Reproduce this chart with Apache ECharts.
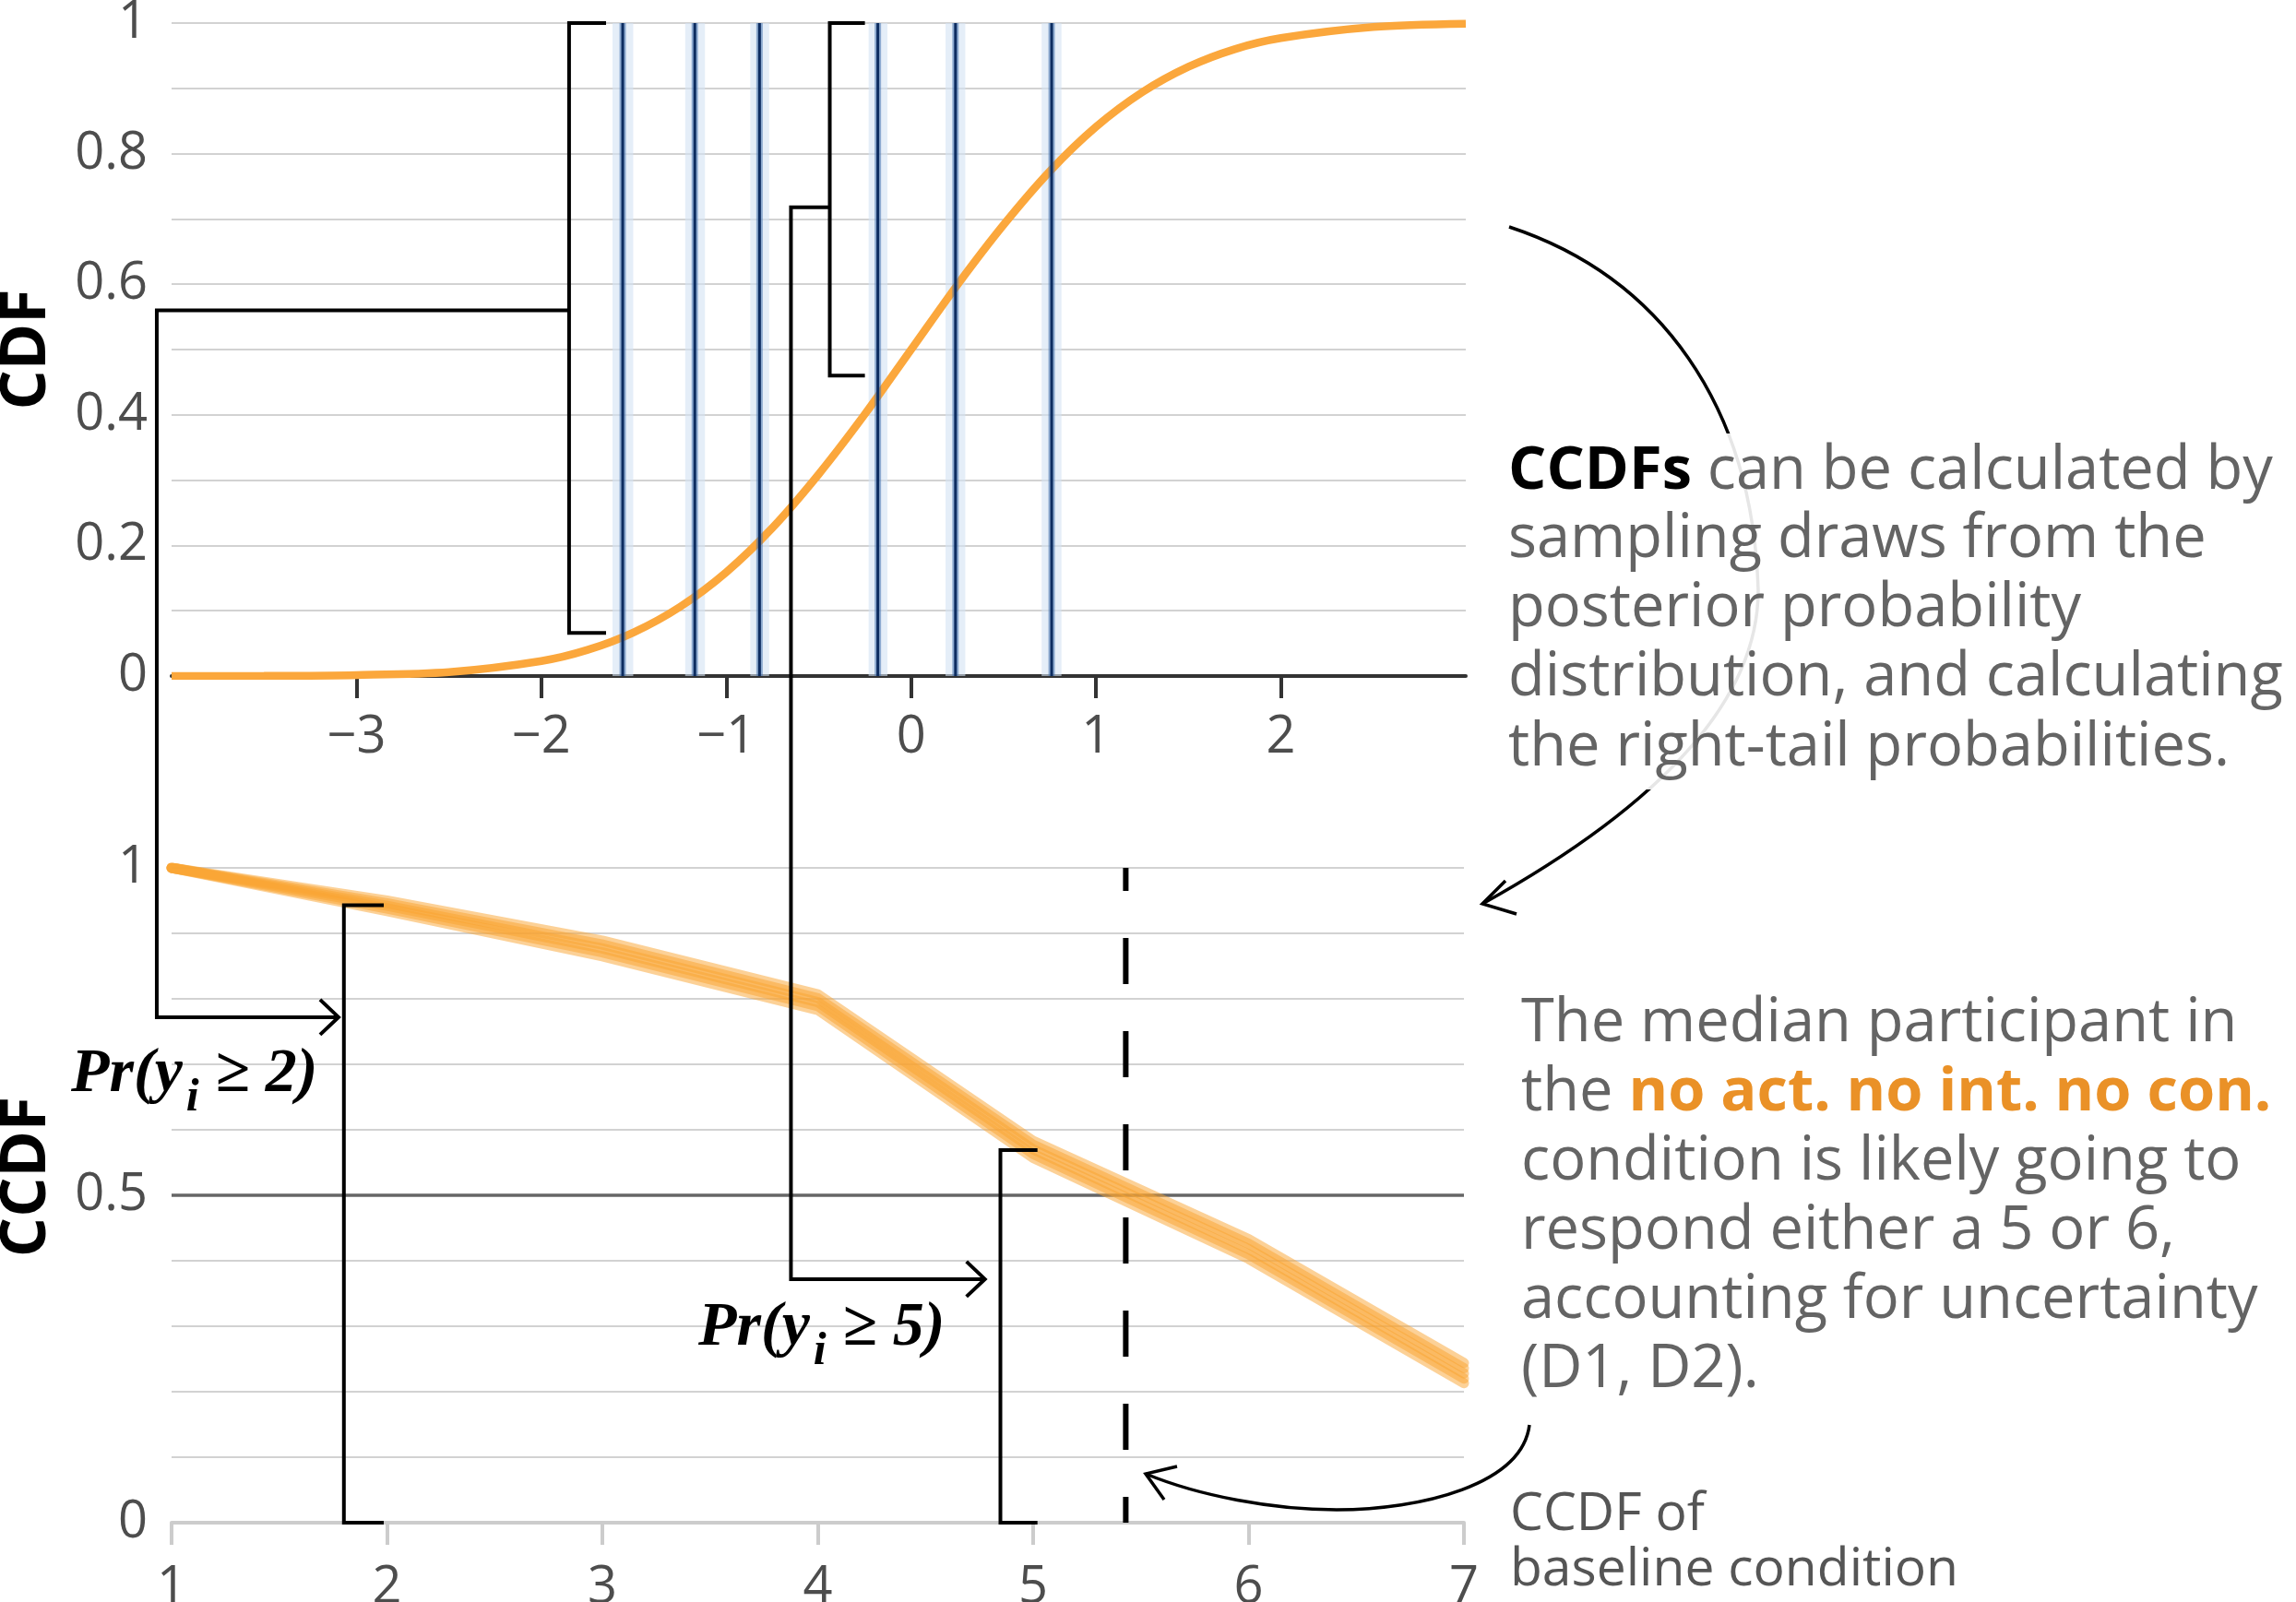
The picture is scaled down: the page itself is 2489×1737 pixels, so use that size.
<!DOCTYPE html>
<html><head><meta charset="utf-8">
<script src="https://cdn.jsdelivr.net/npm/echarts@6/dist/echarts.min.js"></script>
<style>html,body{margin:0;padding:0;background:#fff}#c{width:2489px;height:1737px}</style>
</head><body><div id="c"></div>
<script>
// ---------- data ----------
// latent-scale CDF curve (top panel)
const cdfX = [-4, -3.5, -3, -2.5, -2, -1.75, -1.5, -1.25, -1, -0.75, -0.5, -0.25, 0, 0.25, 0.5, 0.75, 1, 1.25, 1.5, 1.75, 2, 2.5, 3];
const cdfY = [0, 0.0002, 0.0015, 0.006, 0.023, 0.04, 0.067, 0.106, 0.159, 0.227, 0.309, 0.401, 0.5, 0.599, 0.691, 0.773, 0.841, 0.894, 0.933, 0.96, 0.977, 0.994, 0.999];
// thresholds (posterior means) and their uncertainty bands
const thresholds    = [-1.56, -1.17, -0.82, -0.18, 0.24, 0.76];
const thresholdLow  = [-1.615, -1.222, -0.870, -0.230, 0.186, 0.706];
const thresholdHigh = [-1.503, -1.115, -0.768, -0.128, 0.293, 0.813];
const topXTicks = [-3, -2, -1, 0, 1, 2];
const topYTicks = [0, 0.2, 0.4, 0.6, 0.8, 1];
// CCDF (bottom panel), several posterior draws
const responses = [1, 2, 3, 4, 5, 6, 7];
const ccdfDraw1 = [1, 0.950, 0.889, 0.807, 0.583, 0.433, 0.244];
const ccdfDraw2 = [1, 0.946, 0.883, 0.801, 0.577, 0.426, 0.236];
const ccdfDraw3 = [1, 0.942, 0.877, 0.795, 0.570, 0.418, 0.228];
const ccdfDraw4 = [1, 0.938, 0.871, 0.789, 0.563, 0.410, 0.220];
const ccdfDraw5 = [1, 0.934, 0.865, 0.783, 0.557, 0.403, 0.213];
const bottomYTicks = [0, 0.5, 1];
const medianLevel = 0.5;
const medianResponse = 5.43;
// annotation anchors (data space)
const bracketsTop = [
  {x: -1.85, y0: 0.066, y1: 1, tickTo: -1.65},
  {x: -0.44, y0: 0.46, y1: 1, tickTo: -0.25}
];
const bracketsBottom = [
  {x: 1.80, y0: 0, y1: 0.943, tickTo: 1.985},
  {x: 4.848, y0: 0, y1: 0.569, tickTo: 5.02}
];
const connectors = [
  {fromX: -1.85, fromY: 0.56, elbowX: -4.08, toY: 0.772, toX: 1.775},
  {fromX: -0.44, fromY: 0.718, elbowX: -0.65, toY: 0.372, toX: 4.776}
];

// ---------- chart ----------
const FONT = "'Open Sans', sans-serif";
const LABEL = '#4d4d4d';
const chart = echarts.init(document.getElementById('c'), null, {renderer: 'canvas', width: 2489, height: 1737});
const fmtNum = v => String(Number(v.toFixed(2))).replace('-', '\u2212');
const inList = (list, v) => list.some(t => Math.abs(t - v) < 1e-6);

const drawSeries = [ccdfDraw1, ccdfDraw2, ccdfDraw3, ccdfDraw4, ccdfDraw5].map(d => ({
  type: 'line', xAxisIndex: 1, yAxisIndex: 1, z: 3,
  data: responses.map((r, i) => [r, d[i]]),
  showSymbol: false, silent: true,
  lineStyle: {color: 'rgba(250,163,48,0.5)', width: 11, cap: 'round', join: 'round'}
}));

const option = {
  animation: false,
  backgroundColor: '#ffffff',
  grid: [
    {left: 186, top: 25, width: 1403, height: 708, containLabel: false, outerBoundsMode: 'none'},
    {left: 186, top: 941, width: 1401, height: 710, containLabel: false, outerBoundsMode: 'none'}
  ],
  xAxis: [
    {gridIndex: 0, type: 'value', min: -4, max: 3, interval: 1,
     axisLine: {show: true, onZero: false, lineStyle: {color: '#333', width: 4}},
     axisTick: {show: true, length: 24, customValues: topXTicks, lineStyle: {color: '#333', width: 4}},
     axisLabel: {customValues: topXTicks,
       formatter: v => inList(topXTicks, v) ? fmtNum(v) : '',
       fontSize: 56, fontFamily: FONT, color: LABEL, margin: 39},
     splitLine: {show: false}},
    {gridIndex: 1, type: 'value', min: 1, max: 7, interval: 1,
     axisLine: {show: true, onZero: false, lineStyle: {color: '#cccccc', width: 4}},
     axisTick: {show: true, length: 24, lineStyle: {color: '#cccccc', width: 4}},
     axisLabel: {fontSize: 56, fontFamily: FONT, color: LABEL, margin: 43},
     splitLine: {show: false}}
  ],
  yAxis: [
    {gridIndex: 0, type: 'value', min: 0, max: 1, interval: 0.1,
     name: 'CDF', nameLocation: 'middle', nameGap: 122,
     nameTextStyle: {fontSize: 68, fontWeight: 'bold', fontFamily: FONT, color: '#000'},
     axisLine: {show: false}, axisTick: {show: false},
     axisLabel: {customValues: topYTicks, formatter: v => inList(topYTicks, v) ? fmtNum(v) : '',
       fontSize: 56, fontFamily: FONT, color: LABEL, margin: 26},
     splitLine: {show: true, lineStyle: {color: '#d2d2d2', width: 2}}},
    {gridIndex: 1, type: 'value', min: 0, max: 1, interval: 0.1,
     name: 'CCDF', nameLocation: 'middle', nameGap: 122,
     nameTextStyle: {fontSize: 68, fontWeight: 'bold', fontFamily: FONT, color: '#000', padding: [0, 0, 0, 40]},
     axisLine: {show: false}, axisTick: {show: false},
     axisLabel: {customValues: bottomYTicks, formatter: v => inList(bottomYTicks, v) ? fmtNum(v) : '',
       fontSize: 56, fontFamily: FONT, color: LABEL, margin: 26},
     splitLine: {show: true, lineStyle: {color: '#d2d2d2', width: 2}}}
  ],
  series: [
    {type: 'custom', xAxisIndex: 0, yAxisIndex: 0, z: 2, silent: true,
     data: thresholds.map((t, i) => [thresholdLow[i], thresholdHigh[i], t]),
     encode: {x: [0, 1, 2]},
     renderItem: (params, api) => {
       const a = api.coord([api.value(0), 1]);
       const b = api.coord([api.value(1), 0]);
       return {type: 'rect', shape: {x: a[0], y: a[1], width: b[0] - a[0], height: b[1] - a[1]},
               style: {fill: 'rgba(212,227,244,0.6)'}};
     }},
    {type: 'line', xAxisIndex: 0, yAxisIndex: 0, z: 3, smooth: 0.3, showSymbol: false, silent: true,
     data: cdfX.map((x, i) => [x, cdfY[i]]),
     lineStyle: {color: '#fba73c', width: 8.5}},
    {type: 'custom', xAxisIndex: 0, yAxisIndex: 0, z: 4, silent: true,
     data: thresholds.map(t => [t]),
     encode: {x: 0},
     renderItem: (params, api) => {
       const a = api.coord([api.value(0), 1]);
       const b = api.coord([api.value(0), 0]);
       return {type: 'group', children: [
         {type: 'line', shape: {x1: a[0], y1: a[1], x2: b[0], y2: b[1]}, style: {stroke: 'rgba(70,115,175,0.55)', lineWidth: 7}},
         {type: 'line', shape: {x1: a[0], y1: a[1], x2: b[0], y2: b[1]}, style: {stroke: '#0c2c60', lineWidth: 3}}
       ]};
     }},
    {type: 'line', xAxisIndex: 1, yAxisIndex: 1, z: 1, showSymbol: false, silent: true,
     data: [[responses[0], medianLevel], [responses[responses.length - 1], medianLevel]],
     lineStyle: {color: '#666', width: 3.5}},
    ...drawSeries,
    {type: 'line', xAxisIndex: 1, yAxisIndex: 1, z: 5, showSymbol: false, silent: true,
     data: [[medianResponse, 1], [medianResponse, 0]],
     lineStyle: {color: '#000', width: 6, type: [50, 51], dashOffset: 25}}
  ]
};
chart.setOption(option);

// ---------- annotations ----------
const P = (g, x, y) => chart.convertToPixel({gridIndex: g}, [x, y]);
const LW = 4;
const g = [];
const pl = (points, z, w) => g.push({type: 'polyline', shape: {points}, z: z || 50,
  style: {stroke: '#000', lineWidth: w || LW, fill: null, lineJoin: 'miter', lineCap: 'butt'}});
bracketsTop.forEach(b => pl([P(0, b.tickTo, b.y1), P(0, b.x, b.y1), P(0, b.x, b.y0), P(0, b.tickTo, b.y0)]));
bracketsBottom.forEach(b => pl([P(1, b.tickTo, b.y1), P(1, b.x, b.y1), P(1, b.x, b.y0), P(1, b.tickTo, b.y0)]));
connectors.forEach(c => {
  const a = P(0, c.fromX, c.fromY);
  const e = P(0, c.elbowX, c.fromY);
  const t = P(1, c.toX, c.toY);
  pl([a, e, [e[0], t[1]], t]);
  pl([[t[0] - 20, t[1] - 19], t, [t[0] - 20, t[1] + 19]]);
});

// curved arrow 1 (top right)
g.push({type: 'bezierCurve', z: 40, shape: {x1: 1636, y1: 246, cpx1: 1800, cpy1: 300, cpx2: 1900, cpy2: 440, x2: 1906, y2: 640},
  style: {stroke: '#000', lineWidth: 3.5, fill: null}});
g.push({type: 'bezierCurve', z: 40, shape: {x1: 1906, y1: 640, cpx1: 1906, cpy1: 780, cpx2: 1760, cpy2: 895, x2: 1607, y2: 980},
  style: {stroke: '#000', lineWidth: 3.5, fill: null}});
g.push({type: 'polyline', z: 40, shape: {points: [[1632, 955], [1607, 980], [1644, 991]]},
  style: {stroke: '#000', lineWidth: 3.5, fill: null}});
// white veil behind text block 1
g.push({type: 'rect', z: 45, shape: {x: 1628, y: 470, width: 861, height: 386}, style: {fill: 'rgba(255,255,255,0.9)'}});

// curved arrow 2 (bottom right)
g.push({type: 'bezierCurve', z: 40, shape: {x1: 1658, y1: 1545, cpx1: 1650, cpy1: 1610, cpx2: 1540, cpy2: 1637, x2: 1449, y2: 1637},
  style: {stroke: '#000', lineWidth: 3.5, fill: null}});
g.push({type: 'bezierCurve', z: 40, shape: {x1: 1449, y1: 1637, cpx1: 1380, cpy1: 1637, cpx2: 1300, cpy2: 1622, x2: 1242, y2: 1598},
  style: {stroke: '#000', lineWidth: 3.5, fill: null}});
g.push({type: 'polyline', z: 40, shape: {points: [[1276, 1590], [1242, 1598], [1262, 1626]]},
  style: {stroke: '#000', lineWidth: 3.5, fill: null}});

// text blocks
const TXT = '#646464';
const T1 = 65;
const block1 = ['{b|CCDFs} can be calculated by', 'sampling draws from the', 'posterior probability',
  'distribution, and calculating', 'the right-tail probabilities.'];
const block1Y = [511, 585, 660, 735, 811];
block1.forEach((s, i) => g.push({type: 'text', z: 70, x: 1635, y: block1Y[i], style: {
  text: s, fontSize: T1, fontFamily: FONT, fill: TXT, align: 'left', verticalAlign: 'middle',
  rich: {b: {fontSize: T1, fontFamily: FONT, fontWeight: 'bold', fill: '#000'}}}}));
const block2 = ['The median participant in', 'the {o|no act. no int. no con.}', 'condition is likely going to',
  'respond either a 5 or 6,', 'accounting for uncertainty', '(D1, D2).'];
const block2Y = [1110, 1185, 1260, 1335, 1410, 1485];
block2.forEach((s, i) => g.push({type: 'text', z: 70, x: 1649, y: block2Y[i], style: {
  text: s, fontSize: T1, fontFamily: FONT, fill: TXT, align: 'left', verticalAlign: 'middle',
  rich: {o: {fontSize: T1, fontFamily: FONT, fontWeight: 'bold', fill: '#ea9127'}}}}));
['CCDF of', 'baseline condition'].forEach((s, i) => g.push({type: 'text', z: 70, x: 1637, y: [1643, 1703][i],
  style: {text: s, fontSize: 57, fontFamily: FONT, fill: '#555', align: 'left', verticalAlign: 'middle'}}));

// Pr labels
const SER = "'Liberation Serif', serif";
const prRich = {
  m: {fontSize: 68, fontFamily: SER, fontWeight: 'bold', fontStyle: 'italic', fill: '#000'},
  s: {fontSize: 50, fontFamily: SER, fontWeight: 'bold', fontStyle: 'italic', fill: '#000', padding: [52, 4, 0, 4]}
};
g.push({type: 'text', z: 70, x: 77, y: 1165, style: {text: '{m|Pr(y}{s|i}{m|\u2009\u2265 2)}', rich: prRich, align: 'left', verticalAlign: 'middle'}});
g.push({type: 'text', z: 70, x: 757, y: 1440, style: {text: '{m|Pr(y}{s|i}{m|\u2009\u2265 5)}', rich: prRich, align: 'left', verticalAlign: 'middle'}});

chart.setOption({graphic: g});
</script></body></html>
